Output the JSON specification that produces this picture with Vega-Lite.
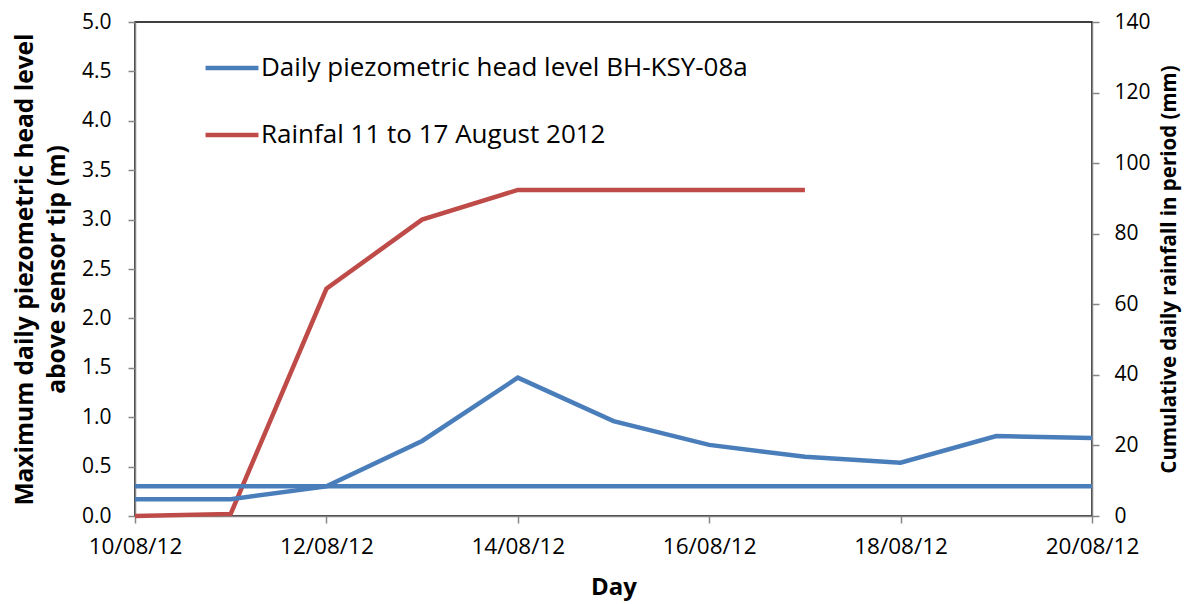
{
  "$schema": "https://vega.github.io/schema/vega-lite/v6.json",
  "width": 957,
  "height": 494,
  "autosize": {"type": "none"},
  "padding": {"left": 135, "top": 22, "right": 93, "bottom": 88},
  "background": "white",
  "config": {
    "font": "Open Sans",
    "view": {"stroke": "#000000", "strokeWidth": 1.5},
    "axis": {
      "grid": false,
      "domainColor": "#868686",
      "domainWidth": 1.5,
      "tickColor": "#868686",
      "tickWidth": 1.5,
      "tickSize": 7,
      "labelColor": "#000000",
      "titleColor": "#000000",
      "labelFont": "Open Sans",
      "titleFont": "Open Sans",
      "titleFontWeight": "bold"
    }
  },
  "datasets": {
    "rain": [
      {"date": "2012/08/10", "series": "Rainfal 11 to 17 August 2012", "mm": 0},
      {"date": "2012/08/11", "series": "Rainfal 11 to 17 August 2012", "mm": 0.6},
      {"date": "2012/08/12", "series": "Rainfal 11 to 17 August 2012", "mm": 64.4},
      {"date": "2012/08/13", "series": "Rainfal 11 to 17 August 2012", "mm": 84},
      {"date": "2012/08/14", "series": "Rainfal 11 to 17 August 2012", "mm": 92.4},
      {"date": "2012/08/15", "series": "Rainfal 11 to 17 August 2012", "mm": 92.4},
      {"date": "2012/08/16", "series": "Rainfal 11 to 17 August 2012", "mm": 92.4},
      {"date": "2012/08/17", "series": "Rainfal 11 to 17 August 2012", "mm": 92.4}
    ],
    "head": [
      {"date": "2012/08/10", "series": "Daily piezometric head level BH-KSY-08a", "level": 0.17},
      {"date": "2012/08/11", "series": "Daily piezometric head level BH-KSY-08a", "level": 0.17},
      {"date": "2012/08/12", "series": "Daily piezometric head level BH-KSY-08a", "level": 0.30},
      {"date": "2012/08/13", "series": "Daily piezometric head level BH-KSY-08a", "level": 0.76},
      {"date": "2012/08/14", "series": "Daily piezometric head level BH-KSY-08a", "level": 1.40},
      {"date": "2012/08/15", "series": "Daily piezometric head level BH-KSY-08a", "level": 0.96},
      {"date": "2012/08/16", "series": "Daily piezometric head level BH-KSY-08a", "level": 0.72},
      {"date": "2012/08/17", "series": "Daily piezometric head level BH-KSY-08a", "level": 0.60},
      {"date": "2012/08/18", "series": "Daily piezometric head level BH-KSY-08a", "level": 0.54},
      {"date": "2012/08/19", "series": "Daily piezometric head level BH-KSY-08a", "level": 0.81},
      {"date": "2012/08/20", "series": "Daily piezometric head level BH-KSY-08a", "level": 0.79}
    ],
    "sensor": [
      {"date": "2012/08/10", "level": 0.30},
      {"date": "2012/08/20", "level": 0.30}
    ]
  },
  "encoding": {
    "x": {
      "field": "date",
      "type": "temporal",
      "scale": {
        "domain": [{"year": 2012, "month": 8, "date": 10}, {"year": 2012, "month": 8, "date": 20}]
      },
      "axis": {
        "title": "Day",
        "format": "%d/%m/%y",
        "values": [
          {"year": 2012, "month": 8, "date": 10},
          {"year": 2012, "month": 8, "date": 12},
          {"year": 2012, "month": 8, "date": 14},
          {"year": 2012, "month": 8, "date": 16},
          {"year": 2012, "month": 8, "date": 18},
          {"year": 2012, "month": 8, "date": 20}
        ],
        "labelFlush": false,
        "labelFontSize": 22.5,
        "labelPadding": 12,
        "titleFontSize": 24,
        "titlePadding": 18
      }
    }
  },
  "layer": [
    {
      "data": {"name": "rain"},
      "mark": {"type": "line", "strokeWidth": 4.5},
      "encoding": {
        "y": {
          "field": "mm",
          "type": "quantitative",
          "scale": {"domain": [0, 140]},
          "axis": {
            "orient": "right",
            "title": "Cumulative daily rainfall in period (mm)",
            "values": [0, 20, 40, 60, 80, 100, 120, 140],
            "labelFontSize": 21,
            "labelPadding": 15,
            "titleFontSize": 20.5,
            "titleAngle": 270,
            "titlePadding": 29
          }
        },
        "color": {
          "field": "series",
          "type": "nominal",
          "scale": {
            "domain": ["Daily piezometric head level BH-KSY-08a", "Rainfal 11 to 17 August 2012"],
            "range": ["#4A7EBB", "#BE4B48"]
          },
          "legend": {
            "title": null,
            "orient": "none",
            "legendX": 68,
            "legendY": 17,
            "symbolType": "stroke",
            "symbolStrokeWidth": 4.5,
            "symbolSize": 2800,
            "labelFontSize": 26,
            "labelFont": "Open Sans",
            "labelColor": "#000000",
            "labelOffset": 0,
            "rowPadding": 25,
            "labelLimit": 800
          }
        }
      }
    },
    {
      "layer": [
        {
          "data": {"name": "sensor"},
          "mark": {"type": "line", "strokeWidth": 4.5, "color": "#4A7EBB"},
          "encoding": {
            "y": {"field": "level", "type": "quantitative"}
          }
        },
        {
          "data": {"name": "head"},
          "mark": {"type": "line", "strokeWidth": 4.5},
          "encoding": {
            "y": {"field": "level", "type": "quantitative"},
            "color": {"field": "series", "type": "nominal"}
          }
        }
      ],
      "encoding": {
        "y": {
          "field": "level",
          "type": "quantitative",
          "scale": {"domain": [0, 5]},
          "axis": {
            "orient": "left",
            "title": ["Maximum daily piezometric head level", "above sensor tip (m)"],
            "values": [0, 0.5, 1, 1.5, 2, 2.5, 3, 3.5, 4, 4.5, 5],
            "format": ".1f",
            "labelFontSize": 21,
            "labelPadding": 17,
            "titleFontSize": 24.5,
            "titleLineHeight": 32,
            "titlePadding": 12
          }
        }
      }
    }
  ],
  "resolve": {"scale": {"y": "independent"}}
}
